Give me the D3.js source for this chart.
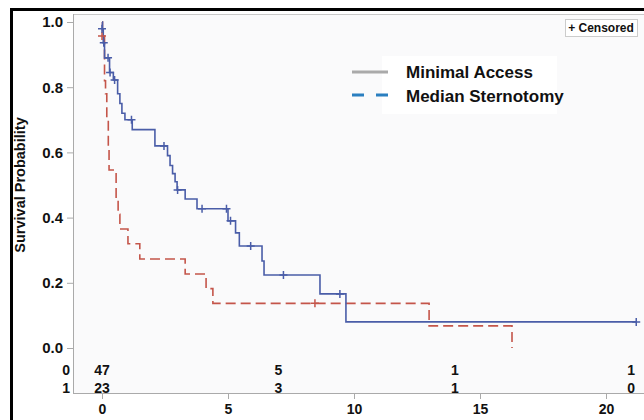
<!DOCTYPE html>
<html>
<head>
<script src="https://d3js.org/d3.v7.min.js"></script>
<style>
  body { margin: 0; background: #fff; }
  svg text { font-family: "Liberation Sans", Arial, sans-serif; font-weight: bold; fill: #111; }
</style>
</head>
<body>
<div id="chart"></div>
<script>
// Minimal Access (group 0) step curve
var maTimes = [0, 0.02, 0.05, 0.1, 0.3, 0.45, 0.62, 0.71, 0.79, 0.91, 1.2, 2.1, 2.6, 2.7, 2.8, 2.9, 2.98, 3.3, 3.77, 5.0, 5.3, 5.45, 6.35, 6.43, 8.65, 9.68, 21.2];
var maSurv  = [1.0, 0.979, 0.936, 0.89, 0.845, 0.822, 0.78, 0.75, 0.72, 0.70, 0.67, 0.62, 0.59, 0.56, 0.535, 0.51, 0.485, 0.457, 0.427, 0.39, 0.353, 0.313, 0.267, 0.224, 0.166, 0.08, 0.08];
var maCensTimes = [0, 0.07, 0.24, 0.32, 0.5, 1.17, 2.46, 3.0, 3.97, 4.94, 5.1, 5.9, 7.2, 9.44, 21.2];
var maCensSurv  = [0.979, 0.936, 0.89, 0.845, 0.822, 0.70, 0.62, 0.485, 0.427, 0.427, 0.39, 0.313, 0.224, 0.166, 0.08];

// Median Sternotomy (group 1) step curve
var msTimes = [0, 0.02, 0.1, 0.14, 0.19, 0.25, 0.28, 0.56, 0.64, 0.71, 1.03, 1.5, 3.3, 4.13, 4.4, 12.98, 16.27];
var msSurv  = [1.0, 0.957, 0.82, 0.78, 0.70, 0.62, 0.546, 0.46, 0.41, 0.365, 0.32, 0.273, 0.227, 0.182, 0.137, 0.068, 0.0];
var msCensTimes = [0, 8.45];
var msCensSurv  = [0.957, 0.137];

// number at risk table
var riskTimes = [0, 7, 14, 21];
var riskGroups = ["0", "1"];
var riskMA = [47, 5, 1, 1];
var riskMS = [23, 3, 1, 0];

var xTicks = [0, 5, 10, 15, 20];
var yTicks = [0, 0.2, 0.4, 0.6, 0.8, 1.0];

var W = 644, H = 420;
var svg = d3.select("#chart").append("svg")
  .attr("width", W).attr("height", H);

var x = d3.scaleLinear().domain([0, 20]).range([102, 606]);
var y = d3.scaleLinear().domain([0, 1]).range([348, 22]);

// outer frame
svg.append("line").attr("x1", 11.5).attr("x2", 11.5).attr("y1", 8).attr("y2", H)
  .attr("stroke", "#000").attr("stroke-width", 3);
svg.append("line").attr("x1", 10).attr("x2", W).attr("y1", 9.5).attr("y2", 9.5)
  .attr("stroke", "#000").attr("stroke-width", 3);

// plot area
svg.append("rect").attr("x", 73).attr("y", 14).attr("width", W - 73).attr("height", 393 - 14)
  .attr("fill", "#fafafb");
svg.append("line").attr("x1", 73).attr("x2", W).attr("y1", 14.5).attr("y2", 14.5)
  .attr("stroke", "#c8c8c8");
// legend background
svg.append("rect").attr("x", 382).attr("y", 56).attr("width", 175).attr("height", 58).attr("fill", "#fff");

// y axis
var yAxis = svg.append("g").attr("transform", "translate(73,0)")
  .call(d3.axisLeft(y).tickValues(yTicks).tickFormat(d3.format(".1f")).tickSize(6).tickPadding(4));
yAxis.select(".domain").attr("d", "M0.5,14V393").attr("stroke", "#aaa");
yAxis.selectAll(".tick line").attr("stroke", "#aaa");
yAxis.selectAll(".tick text").style("font-size", "15px");

svg.append("text")
  .attr("transform", "translate(25,185) rotate(-90)")
  .attr("text-anchor", "middle")
  .style("font-size", "14.5px")
  .text("Survival Probability");

// x axis
var xAxis = svg.append("g").attr("transform", "translate(0,393)")
  .call(d3.axisBottom(x).tickValues(xTicks).tickSize(6).tickPadding(5));
xAxis.select(".domain").attr("d", "M73,0.5H" + W).attr("stroke", "#aaa");
xAxis.selectAll(".tick line").attr("stroke", "#aaa");
xAxis.selectAll(".tick text").style("font-size", "14px");

// risk table
var riskRows = [riskMA, riskMS];
var rowY = [y(0) + 27, y(0) + 45];
riskGroups.forEach(function(g, i) {
  svg.append("text").attr("x", 70).attr("y", rowY[i]).attr("text-anchor", "end")
    .style("font-size", "14px").text(g);
  svg.selectAll(null).data(riskTimes).enter().append("text")
    .attr("x", function(d) { return x(d); })
    .attr("y", rowY[i])
    .attr("text-anchor", "middle")
    .style("font-size", "14px")
    .text(function(d, j) { return riskRows[i][j]; });
});

// curves
var line = d3.line()
  .x(function(d) { return x(d[0]); })
  .y(function(d) { return y(d[1]); })
  .curve(d3.curveStepAfter);

var blue = "#4a5da8", red = "#c4554a";

svg.append("path")
  .datum(msTimes.map(function(t, i) { return [t, msSurv[i]]; }))
  .attr("fill", "none").attr("stroke", red).attr("stroke-width", 1.6)
  .attr("stroke-dasharray", "10,5")
  .attr("d", line);

svg.append("path")
  .datum(maTimes.map(function(t, i) { return [t, maSurv[i]]; }))
  .attr("fill", "none").attr("stroke", blue).attr("stroke-width", 1.6)
  .attr("d", line);

function censor(times, surv, color) {
  var s = 4;
  svg.append("g").selectAll("path")
    .data(times.map(function(t, i) { return [t, surv[i]]; }))
    .enter().append("path")
    .attr("d", function(d) {
      var cx = x(d[0]), cy = y(d[1]);
      return "M" + (cx - s) + "," + cy + "H" + (cx + s) + "M" + cx + "," + (cy - s) + "V" + (cy + s);
    })
    .attr("stroke", color).attr("stroke-width", 1.5).attr("fill", "none");
}
censor(msCensTimes, msCensSurv, red);
censor(maCensTimes, maCensSurv, blue);

// censored box
svg.append("rect").attr("x", 565.5).attr("y", 19.5).attr("width", 72).attr("height", 17)
  .attr("fill", "#fff").attr("stroke", "#ccc");
svg.append("text").attr("x", 601).attr("y", 32).attr("text-anchor", "middle")
  .style("font-size", "12px")
  .text("+ Censored");

// legend
svg.append("line").attr("x1", 352).attr("x2", 388).attr("y1", 72).attr("y2", 72)
  .attr("stroke", "#aaa").attr("stroke-width", 3);
svg.append("line").attr("x1", 352).attr("x2", 388).attr("y1", 95).attr("y2", 95)
  .attr("stroke", "#2a7fc0").attr("stroke-width", 3).attr("stroke-dasharray", "12,12");
svg.append("text").attr("x", 406).attr("y", 78).style("font-size", "17px").text("Minimal Access");
svg.append("text").attr("x", 406).attr("y", 102).style("font-size", "17px").text("Median Sternotomy");
</script>
</body>
</html>
